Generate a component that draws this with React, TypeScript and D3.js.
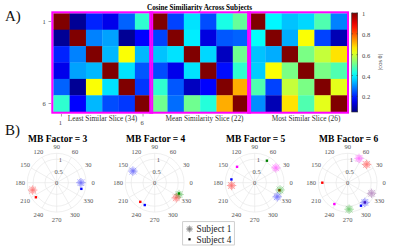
import React from "react";
import * as d3 from "d3";

// ---------- Data ----------
const blockLabels = ["Least Similar Slice (34)", "Mean Similarity Slice (22)", "Most Similar Slice (26)"];
const leastSimilar = [
  [1, 0.07, 0.2, 0.15, 0.26, 0.45],
  [0.07, 1, 0.29, 0.32, 0.07, 0.17],
  [0.2, 0.29, 1, 0.34, 0.64, 0.34],
  [0.15, 0.32, 0.34, 1, 0.38, 0.25],
  [0.26, 0.07, 0.64, 0.38, 1, 0.22],
  [0.45, 0.17, 0.34, 0.24, 0.22, 1],
];
const meanSimilar = [
  [1, 0.23, 0.38, 0.24, 0.43, 0.5],
  [0.23, 1, 0.39, 0.14, 0.25, 0.26],
  [0.35, 0.38, 1, 0.37, 0.11, 0.51],
  [0.24, 0.15, 0.38, 1, 0.18, 0.45],
  [0.45, 0.25, 0.11, 0.17, 1, 0.72],
  [0.51, 0.27, 0.51, 0.44, 0.72, 1],
];
const mostSimilar = [
  [1, 0.4, 0.35, 0.37, 0.48, 0.29],
  [0.41, 1, 0.33, 0.64, 0.23, 0.1],
  [0.35, 0.33, 1, 0.52, 0.59, 0.67],
  [0.36, 0.64, 0.52, 1, 0.52, 0.48],
  [0.48, 0.23, 0.59, 0.52, 1, 0.62],
  [0.3, 0.1, 0.67, 0.48, 0.62, 1],
];
const colorbarTicks = [0.2, 0.4, 0.6, 0.8, 1];
const angleTicks = [0, 30, 60, 90, 120, 150, 180, 210, 240, 270, 300, 330];
const radialTicks = [0, 0.5, 1];
const mbFactors = [3, 4, 5, 6];

// polar points: [angleDeg, radius, color]
type P = [number, number, string];
const subject1 = [
  [[0, 1.03, "#0000ff"], [197, 1.07, "#ff0000"]],
  [[152, 1.05, "#0000ff"], [334, 1.15, "#00a000"], [325, 1.12, "#ff0000"]],
  [[35, 1.1, "#ff00ff"], [187, 0.99, "#ff0000"], [344, 1.12, "#00a000"], [328, 1.13, "#0000ff"]],
  [[65, 1.14, "#ff00ff"], [44, 1.12, "#ff0000"], [336, 1.11, "#7e2f8e"], [311, 1.11, "#0000ff"], [273, 1.13, "#00a000"]],
] as P[][];
const subject4 = [
  [[346, 1.08, "#0000ff"], [215, 1.08, "#ff0000"]],
  [[233, 1.02, "#ff0000"], [246, 1.04, "#0000ff"], [336, 1.13, "#008000"]],
  [[61, 1.07, "#008000"], [138, 1.01, "#ff00ff"], [172, 1.0, "#0000ff"], [343, 1.1, "#cc0000"]],
  [[180, 1.08, "#ff0000"], [311, 1.11, "#7e2f8e"], [300, 1.13, "#0000ff"], [238, 1.07, "#ff00ff"]],
] as P[][];

// ---------- helpers ----------
const jet = (t: number) => {
  const c = (v: number) => Math.round(255 * Math.max(0, Math.min(1, v)));
  const r = c(1.5 - Math.abs(4 * t - 3));
  const g = c(1.5 - Math.abs(4 * t - 2));
  const b = c(1.5 - Math.abs(4 * t - 1));
  return `rgb(${r},${g},${b})`;
};

const FONT = "'Liberation Serif', 'Times New Roman', serif";

export default function App() {
  const W = 400, H = 251;
  const blocks = [leastSimilar, meanSimilar, mostSimilar];
  const x = d3.scaleBand<number>().domain(d3.range(18)).range([53.3, 347]);
  const y = d3.scaleBand<number>().domain(d3.range(6)).range([13.3, 111.7]);
  const color = d3.scaleSequential(jet).domain([0.05, 1]);
  const cbY = d3.scaleLinear().domain([0.05, 1]).range([112, 13]);
  const cbX0 = 351.7, cbW = 6;
  const cw = x.bandwidth();
  const labelCenters = [102.5, 204.5, 306];

  const polarCx = [56.7, 154.7, 254.7, 347.7];
  const polarCy = 182.7;
  const rScale = d3.scaleLinear().domain([0, 1.25]).range([0, 29.4]);

  const cbStops = d3.range(0, 1.0001, 0.05);

  const asterisk = (cx: number, cy: number, col: string, key: string, op = 0.5, s = 4.7) => (
    <g key={key} stroke={col} strokeWidth={0.7} opacity={op}>
      {[0, 45, 90, 135, 22.5, 67.5, 112.5, 157.5].map((a) => {
        const rad = (a * Math.PI) / 180;
        const len = a % 45 === 0 ? s : s * 0.8;
        return (
          <line key={a} x1={cx - len * Math.cos(rad)} y1={cy - len * Math.sin(rad)} x2={cx + len * Math.cos(rad)} y2={cy + len * Math.sin(rad)} />
        );
      })}
    </g>
  );

  return (
    <svg width={W} height={H} style={{ position: "absolute", left: 0, top: 0, background: "#fff" }} fontFamily={FONT}>
      <defs>
        <linearGradient id="cbgrad" x1="0" y1="1" x2="0" y2="0">
          {cbStops.map((t) => (
            <stop key={t} offset={t} stopColor={jet(t)} />
          ))}
        </linearGradient>
      </defs>
      <rect width={W} height={H} fill="#fff" />
      {/* Panel labels */}
      <text x={5} y={20.5} fontSize={15} fill="#111">A)</text>
      <text x={5} y={135} fontSize={15} fill="#111">B)</text>

      {/* Title */}
      <text x={199.5} y={9.5} fontSize={7.2} fontWeight="bold" textAnchor="middle" fill="#000">
        Cosine Similiarity Across Subjects
      </text>

      {/* Heatmap cells */}
      {blocks.map((m, bi) =>
        m.map((row, ri) =>
          row.map((v, ci) => (
            <rect key={`${bi}-${ri}-${ci}`} x={x(bi * 6 + ci)!} y={y(ri)!} width={cw + 0.3} height={y.bandwidth() + 0.3} fill={color(v)} />
          ))
        )
      )}
      {/* axis ticks */}
      {[0, 5].map((i) => (
        <g key={"yt" + i}>
          <line x1={48.5} x2={51} y1={y(i)! + y.bandwidth() / 2} y2={y(i)! + y.bandwidth() / 2} stroke="#666" strokeWidth={0.6} />
          <text x={44} y={y(i)! + y.bandwidth() / 2} fontSize={6.5} textAnchor="middle" dominantBaseline="central" fill="#444">{i + 1}</text>
          <line x1={x(i)! + cw / 2} x2={x(i)! + cw / 2} y1={114} y2={116.5} stroke="#666" strokeWidth={0.6} />
          <text x={x(i)! + cw / 2 - 1} y={122} fontSize={6.5} textAnchor="middle" dominantBaseline="central" fill="#444">{i + 1}</text>
        </g>
      ))}
      {/* block frames */}
      {blocks.map((_, bi) => (
        <rect key={"fr" + bi} x={x(bi * 6)! - 1} y={y(0)! - 1} width={cw * 6 + 2} height={y.bandwidth() * 6 + 2} fill="none" stroke="#ff00ff" strokeWidth={2} />
      ))}
      {blockLabels.map((l, i) => (
        <text key={l} x={labelCenters[i]} y={118.5} fontSize={7.3} textAnchor="middle" dominantBaseline="central" fill="#333">{l}</text>
      ))}

      {/* Colorbar */}
      <rect x={cbX0} y={cbY(1)} width={cbW} height={cbY(0.05) - cbY(1)} fill="url(#cbgrad)" stroke="#333" strokeWidth={0.6} />
      {colorbarTicks.map((t) => (
        <g key={"cb" + t}>
          <line x1={cbX0} x2={cbX0 + 1.3} y1={cbY(t)} y2={cbY(t)} stroke="#333" strokeWidth={0.5} />
          <line x1={cbX0 + cbW - 1.3} x2={cbX0 + cbW} y1={cbY(t)} y2={cbY(t)} stroke="#333" strokeWidth={0.5} />
          <text x={362} y={cbY(t) + 0.5} fontSize={6.5} dominantBaseline="central" fill="#444">{t === 1 ? "1" : t.toFixed(1)}</text>
        </g>
      ))}
      <text transform={`translate(379,62) rotate(-90)`} fontSize={6.5} textAnchor="middle" dominantBaseline="central" fill="#444">|cos θ|</text>

      {/* Polar plots */}
      {mbFactors.map((mb, pi) => {
        const cx = polarCx[pi], cy = polarCy;
        const pt = (a: number, r: number): [number, number] => [cx + rScale(r) * Math.cos((a * Math.PI) / 180), cy - rScale(r) * Math.sin((a * Math.PI) / 180)];
        return (
          <g key={"p" + mb}>
            <text x={cx + 1} y={141.5} fontSize={9.5} fontWeight="bold" textAnchor="middle" fill="#000">MB Factor = {mb}</text>
            {[0.5, 1, 1.25].map((r) => (
              <circle key={r} cx={cx} cy={cy} r={rScale(r)} fill="none" stroke="#e4e4e4" strokeWidth={0.6} />
            ))}
            {angleTicks.map((a) => {
              const [ex, ey] = pt(a, 1.25);
              const lr = rScale.invert(36.5);
              const [lx, ly] = pt(a, lr);
              return (
                <g key={a}>
                  <line x1={cx} y1={cy} x2={ex} y2={ey} stroke="#e4e4e4" strokeWidth={0.6} />
                  <text x={lx} y={ly} fontSize={6.5} textAnchor="middle" dominantBaseline="central" fill="#555">{a}</text>
                </g>
              );
            })}
            {radialTicks.map((r) => (
              <text key={"r" + r} x={cx + rScale(r) * 0.16} y={cy - rScale(r) * 0.99} fontSize={6.5} textAnchor="middle" dominantBaseline="central" fill="#555">{r}</text>
            ))}
            {subject4[pi].map(([a, r, c], i) => {
              const [px, py] = pt(a, r);
              return <rect key={"d" + i} x={px - 1.2} y={py - 1.2} width={2.4} height={2.4} fill={c} />;
            })}
            {subject1[pi].map(([a, r, c], i) => {
              const [px, py] = pt(a, r);
              return asterisk(px, py, c, "s" + i);
            })}
          </g>
        );
      })}

      {/* Legend */}
      <rect x={182.7} y={221.7} width={51.6} height={23.3} fill="#fff" stroke="#bbb" strokeWidth={0.7} />
      {asterisk(189.5, 229, "#777", "lg1", 0.9, 3.5)}
      <rect x={188.4} y={238.2} width={2.2} height={2.2} fill="#000" />
      <text x={196.5} y={229.3} fontSize={9.3} dominantBaseline="central" fill="#222">Subject 1</text>
      <text x={196.5} y={239.5} fontSize={9.3} dominantBaseline="central" fill="#222">Subject 4</text>
    </svg>
  );
}
